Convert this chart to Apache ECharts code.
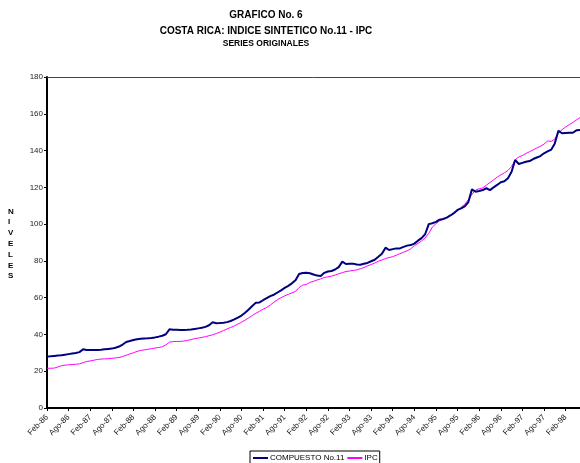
<!DOCTYPE html>
<html lang="es">
<head>
  <meta charset="UTF-8">
  <title>Grafico No. 6</title>
  <style>
    html, body { margin: 0; padding: 0; background: #fff; }
    #main { width: 580px; height: 463px; }
  </style>
</head>
<body>
  <div id="main"></div>
  <script src="https://cdn.jsdelivr.net/npm/echarts@6/dist/echarts.min.js"></script>
  <script>
    // monthly, Feb-86 .. Jun-98
    var monthNames = ['Ene', 'Feb', 'Mar', 'Abr', 'May', 'Jun', 'Jul', 'Ago', 'Sep', 'Oct', 'Nov', 'Dic'];
    var startYear = 1986, startMonth = 1, nMonths = 149;

    var compuesto = [
      28.0, 28.1, 28.3, 28.5, 28.7, 29.0, 29.3, 29.6, 29.9, 30.4, 31.9,
      31.5, 31.5, 31.5, 31.6, 31.7, 31.9, 32.1, 32.3, 32.8, 33.4, 34.5, 35.9,
      36.4, 37.0, 37.4, 37.6, 37.8, 37.9, 38.1, 38.4, 38.8, 39.3, 40.1, 42.8,
      42.6, 42.5, 42.4, 42.4, 42.5, 42.7, 43.0, 43.3, 43.6, 44.1, 45.0, 46.6,
      46.1, 46.2, 46.4, 46.7, 47.3, 48.2, 49.2, 50.3, 51.8, 53.6, 55.5, 57.3,
      57.4, 58.6, 59.7, 60.8, 61.6, 62.8, 64.0, 65.3, 66.4, 67.8, 69.5, 72.9,
      73.4, 73.6, 73.3, 72.6, 72.0, 71.8, 73.5, 74.2, 74.5, 75.3, 76.6, 79.6,
      78.3, 78.4, 78.5, 78.0, 77.9, 78.4, 78.9, 79.8, 80.6, 82.2, 83.9, 87.2,
      85.9, 86.4, 86.8, 86.8, 87.6, 88.3, 88.6, 89.4, 91.0, 92.4, 94.5, 100.0,
      100.5, 101.2, 102.4, 102.8, 103.5, 104.7, 106.0, 107.7, 108.6, 109.6, 112.0, 118.9,
      117.6, 118.0, 118.5, 119.5, 118.5, 120.0, 121.3, 122.8, 123.3, 125.0, 128.5, 134.9,
      132.7, 133.3, 133.9, 134.3, 135.4, 136.2, 137.0, 138.5, 139.5, 140.5, 143.9, 150.8,
      149.4, 149.6, 149.7, 149.7, 151.0, 151.2
    ];

    var ipc = [
      21.6, 21.6, 21.7, 22.3, 23.0, 23.3, 23.5, 23.6, 23.8, 24.0, 24.6,
      25.3, 25.6, 26.0, 26.4, 26.6, 26.7, 26.8, 27.0, 27.2, 27.5, 28.0, 28.7,
      29.4, 30.0, 30.8, 31.3, 31.6, 31.9, 32.3, 32.6, 32.9, 33.3, 34.3, 35.8,
      36.1, 36.2, 36.2, 36.4, 36.8, 37.2, 37.7, 38.0, 38.4, 38.8, 39.3, 39.8,
      40.5, 41.2, 42.1, 43.0, 43.8, 44.6, 45.6, 46.6, 47.8, 49.0, 50.3, 51.5,
      52.6, 53.7, 54.7, 56.0, 57.5, 58.9, 60.0, 61.0, 61.8, 62.6, 63.4, 65.5,
      66.8, 67.2, 68.3, 68.9, 69.6, 70.2, 71.0, 71.3, 71.7, 72.3, 73.0, 73.6,
      74.2, 74.5, 74.8, 75.1, 75.7, 76.4, 77.3, 78.0, 78.8, 79.8, 80.5, 81.3,
      81.8, 82.3, 83.1, 83.9, 84.7, 85.5, 86.6, 88.2, 89.5, 90.8, 92.5, 95.0,
      98.4, 100.2, 101.8, 102.6, 103.6, 104.6, 106.0, 107.2, 109.2, 110.8, 113.2, 116.2,
      118.5, 119.2, 119.7, 121.2, 122.6, 124.1, 125.5, 126.8, 127.9, 129.2, 131.3, 135.0,
      136.5, 137.3, 138.4, 139.4, 140.4, 141.4, 142.3, 143.5, 145.2, 145.0, 146.3, 149.5,
      151.3, 152.8, 154.1, 155.3, 156.6, 157.9
    ];

    var categories = [];
    for (var i = 0; i < nMonths; i++) {
      var m = (startMonth + i) % 12;
      var y = startYear + Math.floor((startMonth + i) / 12);
      categories.push(monthNames[m] + '-' + String(y).slice(2));
    }

    var myChart = echarts.init(document.getElementById('main'));
    var option = {
      animation: false,
      title: [
        { text: 'GRAFICO No. 6', left: 266, top: 10, padding: 0, textAlign: 'center',
          textStyle: { fontFamily: 'Liberation Sans', fontSize: 10, fontWeight: 'bold', color: '#000' } },
        { text: 'COSTA RICA: INDICE SINTETICO No.11 - IPC', left: 266, top: 26, padding: 0, textAlign: 'center',
          textStyle: { fontFamily: 'Liberation Sans', fontSize: 10, fontWeight: 'bold', color: '#000' } },
        { text: 'SERIES ORIGINALES', left: 266, top: 39, padding: 0, textAlign: 'center',
          textStyle: { fontFamily: 'Liberation Sans', fontSize: 8.5, fontWeight: 'bold', color: '#000' } }
      ],
      graphic: [{
        type: 'text',
        left: 8,
        top: 206,
        style: {
          text: 'N\nI\nV\nE\nL\nE\nS',
          font: 'bold 8px "Liberation Sans"',
          lineHeight: 10.8,
          align: 'center',
          fill: '#000'
        }
      }],
      legend: {
        left: 250,
        top: 451,
        padding: [3, 2, 6, 3],
        itemGap: 3,
        itemWidth: 15,
        itemHeight: 2,
        borderColor: '#000',
        borderWidth: 1,
        textStyle: { fontFamily: 'Liberation Sans', fontSize: 8, color: '#000', padding: [0, 0, 0, -3] },
        data: [
          { name: 'COMPUESTO No.11', icon: 'rect' },
          { name: 'IPC', icon: 'rect' }
        ]
      },
      grid: { left: 47, right: 0, top: 77, bottom: 55 },
      xAxis: [{
        type: 'category',
        data: categories,
        boundaryGap: false,
        axisLine: { lineStyle: { color: '#000', width: 2 } },
        axisTick: { interval: 5, length: 3, lineStyle: { color: '#000' } },
        axisLabel: {
          interval: 5,
          rotate: 45,
          margin: 8,
          fontFamily: 'Liberation Sans',
          fontSize: 8,
          color: '#222'
        },
        splitLine: { show: false }
      }, {
        type: 'category',
        data: categories,
        position: 'top',
        boundaryGap: false,
        axisLine: { lineStyle: { color: '#444', width: 1 } },
        axisTick: { show: false },
        axisLabel: { show: false }
      }],
      yAxis: {
        type: 'value',
        min: 0,
        max: 180,
        interval: 20,
        axisLine: { show: true, lineStyle: { color: '#000', width: 2 } },
        axisTick: { show: true, length: 3, lineStyle: { color: '#000' } },
        axisLabel: { fontFamily: 'Liberation Sans', fontSize: 8, color: '#222', margin: 4 },
        splitLine: { show: false }
      },
      series: [{
        name: 'COMPUESTO No.11',
        type: 'line',
        data: compuesto,
        showSymbol: false,
        color: '#000080',
        lineStyle: { color: '#000080', width: 2 },
        z: 3
      }, {
        name: 'IPC',
        type: 'line',
        data: ipc,
        showSymbol: false,
        color: '#ff00ff',
        lineStyle: { color: '#ff00ff', width: 1 },
        z: 2
      }]
    };
    myChart.setOption(option);
  </script>
</body>
</html>
